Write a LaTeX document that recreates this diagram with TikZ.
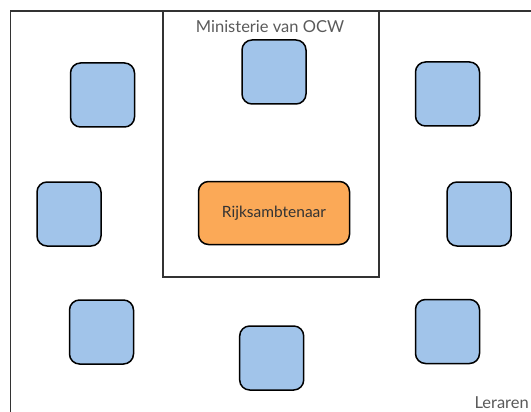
\documentclass[tikz,border=0pt]{standalone}
\usepackage{fontspec}
\setmainfont{Lato}
\usetikzlibrary{positioning}
\definecolor{tileblue}{HTML}{A1C4EA}
\definecolor{civorange}{HTML}{FBA957}
\definecolor{labelgray}{HTML}{5A5A5A}
\tikzset{
    teacher/.style={draw=black,fill=tileblue,rounded corners=10pt,line width=1.5pt,minimum width=64pt,minimum height=64pt,inner sep=0pt},
    official/.style={draw=black,fill=civorange,rounded corners=10pt,line width=1.5pt,minimum width=151pt,minimum height=63pt,inner sep=0pt,text=black!80,font=\fontsize{15.5}{17}\selectfont},
    frame/.style={draw=black!80,line width=1.5pt},
    caption/.style={text=labelgray,inner sep=0pt,font=\fontsize{16.5}{18}\selectfont}
}

\begin{document}
\begin{tikzpicture}[x=1pt,y=-1pt]
            \useasboundingbox (0,0) rectangle (531,412);
            % outer frame (Leraren) and ministry
            \coordinate (fb) at (10.5,420);
            \coordinate (ft) at (10.5,11);
            \coordinate (fr) at (540,11);
            \draw[frame] (fb) -- (ft) -- (fr);
            \draw[frame] (163,11) rectangle (379,277);

            \node[caption] (ocw) at (270,27){Ministerie van OCW};
            \node[caption,anchor=east] (lr) at (529,403){Leraren};

            \node[official] (rs) at (274,213){Rijksambtenaar};

            \node[teacher] (t1) at (102.5,95){};
            \node[teacher] (t2) at (274,72){};
            \node[teacher] (t3) at (447.5,94){};
            \node[teacher] (t4) at (69,214){};
            \node[teacher] (t5) at (479,214){};
            \node[teacher] (t6) at (101.5,332){};
            \node[teacher] (t7) at (271.7,358){};
            \node[teacher] (t8) at (447.5,331.5){};
        \end{tikzpicture}
\end{document}
